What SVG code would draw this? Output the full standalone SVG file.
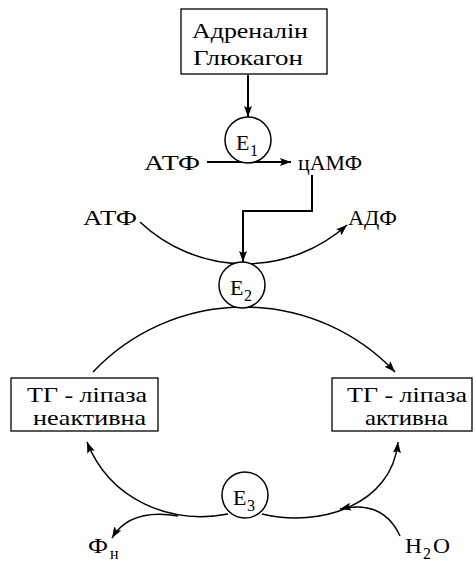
<svg xmlns="http://www.w3.org/2000/svg" width="476" height="561" viewBox="0 0 476 561">
<style>
  text { font-family: 'Liberation Serif', 'DejaVu Serif', serif; font-size: 22px; fill: #000; }
  .bt { font-size: 21px; }
  .sub { font-size: 16px; }
  .box { fill: #fff; stroke: #000; stroke-width: 1.3; }
  .enz { fill: #fff; stroke: #000; stroke-width: 1.5; }
  .thick { fill: none; stroke: #000; stroke-width: 2; }
  .thin { fill: none; stroke: #000; stroke-width: 1.5; }
</style>
<defs>
  <marker id="ah" markerUnits="userSpaceOnUse" markerWidth="12" markerHeight="8" refX="11" refY="4" orient="auto">
    <path d="M0,0 L11,4 L0,8 L2,4 z" fill="#000"/>
  </marker>
</defs>
<rect width="476" height="561" fill="#fff"/>
<g id="connectors">
  <line class="thick" x1="248" y1="75" x2="248" y2="117" marker-end="url(#ah)"/>
  <line class="thick" x1="207" y1="162" x2="291" y2="162" marker-end="url(#ah)"/>
  <polyline class="thick" points="312,175 312,211 243,211 243,262" marker-end="url(#ah)"/>
  <path class="thin" d="M140 222 A153 153 0 0 0 347 225" marker-end="url(#ah)"/>
  <path class="thin" d="M93 372 A208 208 0 0 1 395 372" marker-end="url(#ah)"/>
  <path class="thin" d="M228 514 C170 525 110 500 87 442" marker-end="url(#ah)"/>
  <path class="thin" d="M262 514 C320 528 392 505 398 442" marker-end="url(#ah)"/>
  <path class="thin" d="M178 516 Q130 508 112 538" marker-end="url(#ah)"/>
  <path class="thin" d="M400 536 C390 514 372 502 340 509" marker-end="url(#ah)"/>
</g>
<g font-family="'Liberation Serif', 'DejaVu Serif', serif">
<g id="hormones">
  <rect class="box" x="181" y="9" width="146" height="65"/>
  <text x="192" y="38" textLength="116" lengthAdjust="spacingAndGlyphs">Адреналін</text>
  <text x="193" y="65" textLength="110" lengthAdjust="spacingAndGlyphs">Глюкагон</text>
</g>
<g id="e1">
  <circle class="enz" cx="248" cy="140" r="23"/>
  <text x="236" y="150">Е</text><text class="sub" x="250" y="156">1</text>
</g>
<g id="atf1"><text x="144" y="170" textLength="56" lengthAdjust="spacingAndGlyphs">АТФ</text></g>
<g id="camf"><text x="298" y="170" textLength="64" lengthAdjust="spacingAndGlyphs">цАМФ</text></g>
<g id="atf2"><text x="83" y="225" textLength="54" lengthAdjust="spacingAndGlyphs">АТФ</text></g>
<g id="adf"><text x="348" y="225" textLength="49" lengthAdjust="spacingAndGlyphs">АДФ</text></g>
<g id="e2">
  <circle class="enz" cx="242" cy="285" r="23"/>
  <text x="230" y="295">Е</text><text class="sub" x="244" y="301">2</text>
</g>
<g id="lipase-inactive">
  <rect class="box" x="11" y="378" width="147" height="53"/>
  <text class="bt" x="27" y="402" textLength="120" lengthAdjust="spacingAndGlyphs">ТГ - ліпаза</text>
  <text class="bt" x="33" y="425" textLength="113" lengthAdjust="spacingAndGlyphs">неактивна</text>
</g>
<g id="lipase-active">
  <rect class="box" x="332" y="378" width="140" height="53"/>
  <text class="bt" x="347" y="402" textLength="120" lengthAdjust="spacingAndGlyphs">ТГ - ліпаза</text>
  <text class="bt" x="365" y="425" textLength="83" lengthAdjust="spacingAndGlyphs">активна</text>
</g>
<g id="e3">
  <circle class="enz" cx="245" cy="495" r="23"/>
  <text x="233" y="505">Е</text><text class="sub" x="247" y="511">3</text>
</g>
<g id="fn">
  <text x="88" y="553" textLength="20" lengthAdjust="spacingAndGlyphs">Ф</text>
  <text class="sub" x="110" y="559">н</text>
</g>
<g id="h2o">
  <text x="405" y="553" textLength="17" lengthAdjust="spacingAndGlyphs">H</text>
  <text class="sub" x="423" y="559">2</text>
  <text x="433" y="553" textLength="17" lengthAdjust="spacingAndGlyphs">O</text>
</g>
</g>
</svg>
